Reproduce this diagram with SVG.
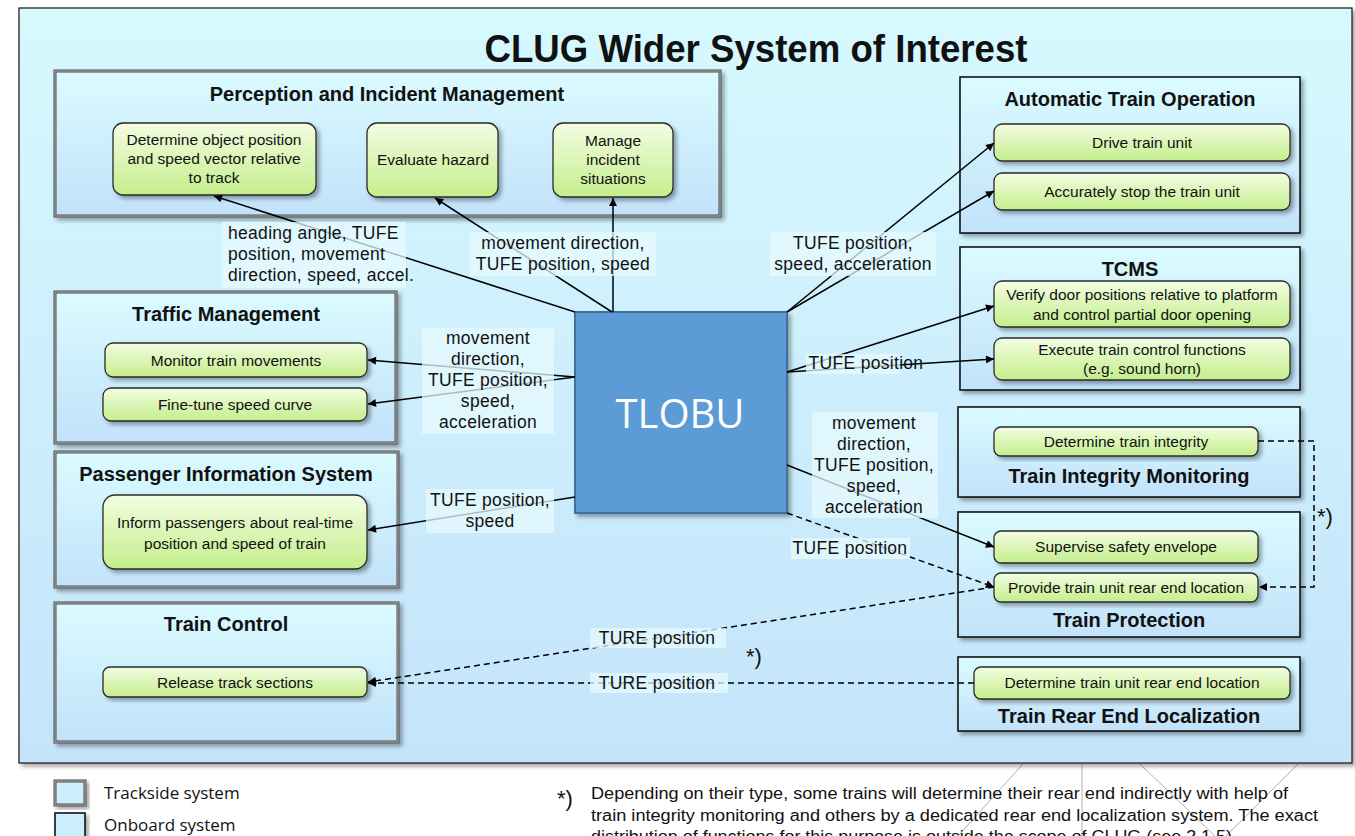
<svg xmlns="http://www.w3.org/2000/svg" width="1355" height="836" viewBox="0 0 1355 836">
  <defs>
    <linearGradient id="gFrame" x1="0" y1="0" x2="0" y2="1">
      <stop offset="0" stop-color="#d6f9fe"/>
      <stop offset="1" stop-color="#c4e4fb"/>
    </linearGradient>
    <linearGradient id="gGroup" x1="0" y1="0" x2="0" y2="1">
      <stop offset="0" stop-color="#dafbff"/>
      <stop offset="1" stop-color="#c2e2fa"/>
    </linearGradient>
    <linearGradient id="gFunc" x1="0" y1="0" x2="0" y2="1">
      <stop offset="0" stop-color="#f3fde2"/>
      <stop offset="1" stop-color="#c4ee8c"/>
    </linearGradient>
    <filter id="shadow" x="-10%" y="-10%" width="125%" height="130%">
      <feDropShadow dx="3" dy="3" stdDeviation="2" flood-color="#000" flood-opacity="0.35"/>
    </filter>
    <marker id="arrow" viewBox="0 0 10 10" refX="10" refY="5" markerWidth="11" markerHeight="8" markerUnits="userSpaceOnUse" orient="auto">
      <path d="M0,0 L10,5 L0,10 z" fill="#000"/>
    </marker>
    <style>
      .frame { fill: url(#gFrame); stroke: #111; stroke-width: 1.2; }
      .track { fill: url(#gGroup); stroke: #4a4a4a; stroke-width: 3; }
      .trackIn { fill: none; stroke: #b8b8b8; stroke-width: 1; }
      .onboard { fill: url(#gGroup); stroke: #151515; stroke-width: 1.6; }
      .func { fill: url(#gFunc); stroke: #2a2a2a; stroke-width: 1.3; }
      .gtitle { font-family: "Liberation Sans", Arial, sans-serif; font-weight: bold; font-size: 20px; fill: #111; text-anchor: middle; }
      .ftext { font-family: "Liberation Sans", Arial, sans-serif; font-size: 15.5px; fill: #111; text-anchor: middle; }
      .lbl { font-family: "Liberation Sans", Arial, sans-serif; font-size: 17.5px; letter-spacing: 0.3px; fill: #111; text-anchor: middle; }
      .lblbg { fill: #e6f9fe; opacity: 0.75; }
      .conn { fill: none; stroke: #000; stroke-width: 1.5; }
      .dash { fill: none; stroke: #000; stroke-width: 1.5; stroke-dasharray: 6 4; }
      .note { font-family: "Liberation Sans", Arial, sans-serif; font-size: 16px; fill: #111; }
      .star { font-family: "Liberation Sans", Arial, sans-serif; font-size: 22px; fill: #111; }
      .legend { font-family: "Open Sans", "Liberation Sans", sans-serif; font-size: 17px; fill: #111; }
    </style>
  </defs>

  <rect width="1355" height="836" fill="#ffffff"/>

  <!-- faint lines behind the footnote -->
  <g stroke="#b0b0b0" stroke-width="1" fill="none">
    <line x1="1023" y1="764" x2="958" y2="836"/>
    <line x1="1082" y1="764" x2="1082" y2="836"/>
    <line x1="1140" y1="764" x2="1215" y2="836"/>
    <line x1="1298" y1="764" x2="1226" y2="836"/>
  </g>

  <!-- outer frame -->
  <rect class="frame" x="19" y="8" width="1333" height="755" filter="url(#shadow)"/>

  <text x="756" y="62" font-family="Liberation Sans, Arial, sans-serif" font-weight="bold" font-size="38" fill="#111" text-anchor="middle" textLength="543" lengthAdjust="spacingAndGlyphs">CLUG Wider System of Interest</text>

  <!-- trackside systems -->
  <g id="perception">
    <rect class="track" x="55" y="71" width="665" height="145" filter="url(#shadow)"/>
    <rect class="trackIn" x="55" y="71" width="665" height="145"/>
    <text class="gtitle" x="387" y="101">Perception and Incident Management</text>
    <g id="determine-object">
      <rect class="func" x="113" y="123" width="203" height="72" rx="10" filter="url(#shadow)"/>
      <text class="ftext" x="214" y="145">Determine  object position</text>
      <text class="ftext" x="214" y="164">and speed  vector  relative</text>
      <text class="ftext" x="214" y="183">to track</text>
    </g>
    <g id="evaluate-hazard">
      <rect class="func" x="367" y="123" width="131" height="74" rx="10" filter="url(#shadow)"/>
      <text class="ftext" x="433" y="165">Evaluate hazard</text>
    </g>
    <g id="manage-incident">
      <rect class="func" x="553" y="123" width="120" height="74" rx="10" filter="url(#shadow)"/>
      <text class="ftext" x="613" y="146">Manage</text>
      <text class="ftext" x="613" y="165">incident</text>
      <text class="ftext" x="613" y="184">situations</text>
    </g>
  </g>

  <g id="traffic-management">
    <rect class="track" x="55" y="292" width="341" height="151" filter="url(#shadow)"/>
    <rect class="trackIn" x="55" y="292" width="341" height="151"/>
    <text class="gtitle" x="226" y="321">Traffic Management</text>
    <g id="monitor-train">
      <rect class="func" x="105" y="343" width="262" height="34" rx="8" filter="url(#shadow)"/>
      <text class="ftext" x="236" y="366">Monitor train movements</text>
    </g>
    <g id="fine-tune">
      <rect class="func" x="103" y="388" width="264" height="33" rx="8" filter="url(#shadow)"/>
      <text class="ftext" x="235" y="410">Fine-tune speed  curve</text>
    </g>
  </g>

  <g id="passenger-info">
    <rect class="track" x="55" y="452" width="343" height="135" filter="url(#shadow)"/>
    <rect class="trackIn" x="55" y="452" width="343" height="135"/>
    <text class="gtitle" x="226" y="481">Passenger Information System</text>
    <g id="inform-passengers">
      <rect class="func" x="103" y="495" width="264" height="74" rx="12" filter="url(#shadow)"/>
      <text class="ftext" x="235" y="528">Inform passengers  about real-time</text>
      <text class="ftext" x="235" y="549">position  and speed of train</text>
    </g>
  </g>

  <g id="train-control">
    <rect class="track" x="55" y="603" width="343" height="139" filter="url(#shadow)"/>
    <rect class="trackIn" x="55" y="603" width="343" height="139"/>
    <text class="gtitle" x="226" y="631">Train Control</text>
    <g id="release-track">
      <rect class="func" x="103" y="667" width="264" height="30" rx="7" filter="url(#shadow)"/>
      <text class="ftext" x="235" y="688">Release track sections</text>
    </g>
  </g>

  <!-- onboard systems -->
  <g id="ato">
    <rect class="onboard" x="960" y="77" width="340" height="156" filter="url(#shadow)"/>
    <text class="gtitle" x="1130" y="106">Automatic Train Operation</text>
    <g id="drive-train">
      <rect class="func" x="994" y="124" width="296" height="37" rx="8" filter="url(#shadow)"/>
      <text class="ftext" x="1142" y="148">Drive train unit</text>
    </g>
    <g id="accurately-stop">
      <rect class="func" x="994" y="173" width="296" height="37" rx="8" filter="url(#shadow)"/>
      <text class="ftext" x="1142" y="197">Accurately stop the train unit</text>
    </g>
  </g>

  <g id="tcms">
    <rect class="onboard" x="960" y="247" width="340" height="143" filter="url(#shadow)"/>
    <text class="gtitle" x="1130" y="276">TCMS</text>
    <g id="verify-doors">
      <rect class="func" x="994" y="281" width="296" height="46" rx="8" filter="url(#shadow)"/>
      <text class="ftext" x="1142" y="300">Verify door positions relative to platform</text>
      <text class="ftext" x="1142" y="320">and control  partial door opening</text>
    </g>
    <g id="execute-functions">
      <rect class="func" x="994" y="338" width="296" height="42" rx="8" filter="url(#shadow)"/>
      <text class="ftext" x="1142" y="355">Execute train control  functions</text>
      <text class="ftext" x="1142" y="374">(e.g. sound horn)</text>
    </g>
  </g>

  <g id="train-integrity">
    <rect class="onboard" x="958" y="407" width="342" height="90" filter="url(#shadow)"/>
    <g id="determine-integrity">
      <rect class="func" x="994" y="427" width="264" height="29" rx="7" filter="url(#shadow)"/>
      <text class="ftext" x="1126" y="447">Determine  train integrity</text>
    </g>
    <text class="gtitle" x="1129" y="483">Train Integrity Monitoring</text>
  </g>

  <g id="train-protection">
    <rect class="onboard" x="958" y="512" width="342" height="125" filter="url(#shadow)"/>
    <g id="supervise-envelope">
      <rect class="func" x="994" y="531" width="264" height="32" rx="7" filter="url(#shadow)"/>
      <text class="ftext" x="1126" y="552">Supervise  safety envelope</text>
    </g>
    <g id="provide-rear-end">
      <rect class="func" x="994" y="573" width="264" height="29" rx="7" filter="url(#shadow)"/>
      <text class="ftext" x="1126" y="593">Provide  train unit rear end location</text>
    </g>
    <text class="gtitle" x="1129" y="627">Train Protection</text>
  </g>

  <g id="rear-end-localization">
    <rect class="onboard" x="958" y="657" width="342" height="74" filter="url(#shadow)"/>
    <g id="determine-rear-end">
      <rect class="func" x="974" y="667" width="316" height="32" rx="7" filter="url(#shadow)"/>
      <text class="ftext" x="1132" y="688">Determine  train unit rear end location</text>
    </g>
    <text class="gtitle" x="1129" y="723">Train Rear End Localization</text>
  </g>

  <!-- central unit -->
  <g id="tlobu">
    <rect x="575" y="312" width="212" height="201" fill="#5b9bd5" stroke="#41719c" stroke-width="2" filter="url(#shadow)"/>
    <text x="680" y="428" font-family="Open Sans, Liberation Sans, sans-serif" font-size="40" fill="#ffffff" text-anchor="middle">TLOBU</text>
  </g>

  <!-- connectors -->
  <g id="connectors">
    <line class="conn" x1="575" y1="312" x2="214" y2="196" marker-end="url(#arrow)"/>
    <line class="conn" x1="612" y1="312" x2="435" y2="198" marker-end="url(#arrow)"/>
    <line class="conn" x1="613" y1="312" x2="613" y2="198" marker-end="url(#arrow)"/>
    <line class="conn" x1="787" y1="312" x2="994" y2="143" marker-end="url(#arrow)"/>
    <line class="conn" x1="787" y1="312" x2="994" y2="191" marker-end="url(#arrow)"/>
    <line class="conn" x1="787" y1="372" x2="994" y2="306" marker-end="url(#arrow)"/>
    <line class="conn" x1="787" y1="372" x2="994" y2="359" marker-end="url(#arrow)"/>
    <line class="conn" x1="575" y1="377" x2="368" y2="360" marker-end="url(#arrow)"/>
    <line class="conn" x1="575" y1="377" x2="368" y2="404" marker-end="url(#arrow)"/>
    <line class="conn" x1="575" y1="497" x2="368" y2="530" marker-end="url(#arrow)"/>
    <line class="conn" x1="787" y1="465" x2="994" y2="547" marker-end="url(#arrow)"/>
    <line class="dash" x1="787" y1="513" x2="994" y2="587" marker-end="url(#arrow)"/>
    <line class="dash" x1="994" y1="587" x2="368" y2="682" marker-end="url(#arrow)"/>
    <line class="dash" x1="974" y1="683" x2="368" y2="683" marker-end="url(#arrow)"/>
    <polyline class="dash" points="1258,441 1314,441 1314,587 1259,587" marker-end="url(#arrow)"/>
  </g>

  <!-- connector labels -->
  <g id="labels">
    <rect class="lblbg" x="222" y="222" width="184" height="66"/>
    <text class="lbl" style="text-anchor:start" x="228" y="239">heading angle, TUFE</text>
    <text class="lbl" style="text-anchor:start" x="228" y="260">position, movement</text>
    <text class="lbl" style="text-anchor:start" x="228" y="281">direction, speed, accel.</text>

    <rect class="lblbg" x="470" y="232" width="186" height="44"/>
    <text class="lbl" x="563" y="249">movement direction,</text>
    <text class="lbl" x="563" y="270">TUFE position, speed</text>

    <rect class="lblbg" x="770" y="232" width="166" height="44"/>
    <text class="lbl" x="853" y="249">TUFE position,</text>
    <text class="lbl" x="853" y="270">speed, acceleration</text>

    <rect class="lblbg" x="422" y="328" width="132" height="106"/>
    <text class="lbl" x="488" y="344">movement</text>
    <text class="lbl" x="488" y="365">direction,</text>
    <text class="lbl" x="488" y="386">TUFE position,</text>
    <text class="lbl" x="488" y="407">speed,</text>
    <text class="lbl" x="488" y="428">acceleration</text>

    <rect class="lblbg" x="426" y="489" width="128" height="44"/>
    <text class="lbl" x="490" y="506">TUFE position,</text>
    <text class="lbl" x="490" y="527">speed</text>

    <rect class="lblbg" x="806" y="354" width="94" height="20"/>
    <text class="lbl" x="866" y="369">TUFE position</text>

    <rect class="lblbg" x="812" y="412" width="126" height="106"/>
    <text class="lbl" x="874" y="429">movement</text>
    <text class="lbl" x="874" y="450">direction,</text>
    <text class="lbl" x="874" y="471">TUFE position,</text>
    <text class="lbl" x="874" y="492">speed,</text>
    <text class="lbl" x="874" y="513">acceleration</text>

    <rect class="lblbg" x="791" y="538" width="119" height="21"/>
    <text class="lbl" x="850" y="554">TUFE position</text>

    <rect class="lblbg" x="590" y="628" width="136" height="20"/>
    <text class="lbl" x="657" y="644">TURE position</text>

    <rect class="lblbg" x="590" y="673" width="138" height="20"/>
    <text class="lbl" x="657" y="689">TURE position</text>

    <text class="star" x="1317" y="524">*)</text>
    <text class="star" x="746" y="664">*)</text>
  </g>

  <!-- legend -->
  <g id="legend">
    <rect x="55" y="781" width="30" height="24" fill="#cdeefd" stroke="#4a4a4a" stroke-width="3" filter="url(#shadow)"/>
    <rect x="55" y="781" width="30" height="24" fill="none" stroke="#b8b8b8" stroke-width="1"/>
    <text class="legend" x="104" y="799">Trackside system</text>
    <rect x="55" y="813" width="30" height="30" fill="#cdeefd" stroke="#151515" stroke-width="1.6" filter="url(#shadow)"/>
    <text class="legend" x="104" y="831">Onboard system</text>
  </g>

  <!-- footnote -->
  <g id="footnote">
    <text class="star" x="557" y="806">*)</text>
    <text class="note" x="591" y="799" textLength="697" lengthAdjust="spacingAndGlyphs">Depending on their type, some trains will determine their rear end indirectly with help of</text>
    <text class="note" x="591" y="821" textLength="727" lengthAdjust="spacingAndGlyphs">train integrity monitoring and others by a dedicated  rear end localization  system. The exact</text>
    <text class="note" x="591" y="842" textLength="646" lengthAdjust="spacingAndGlyphs">distribution of functions for this purpose is outside the scope of CLUG (see 2.1.5).</text>
  </g>
</svg>
